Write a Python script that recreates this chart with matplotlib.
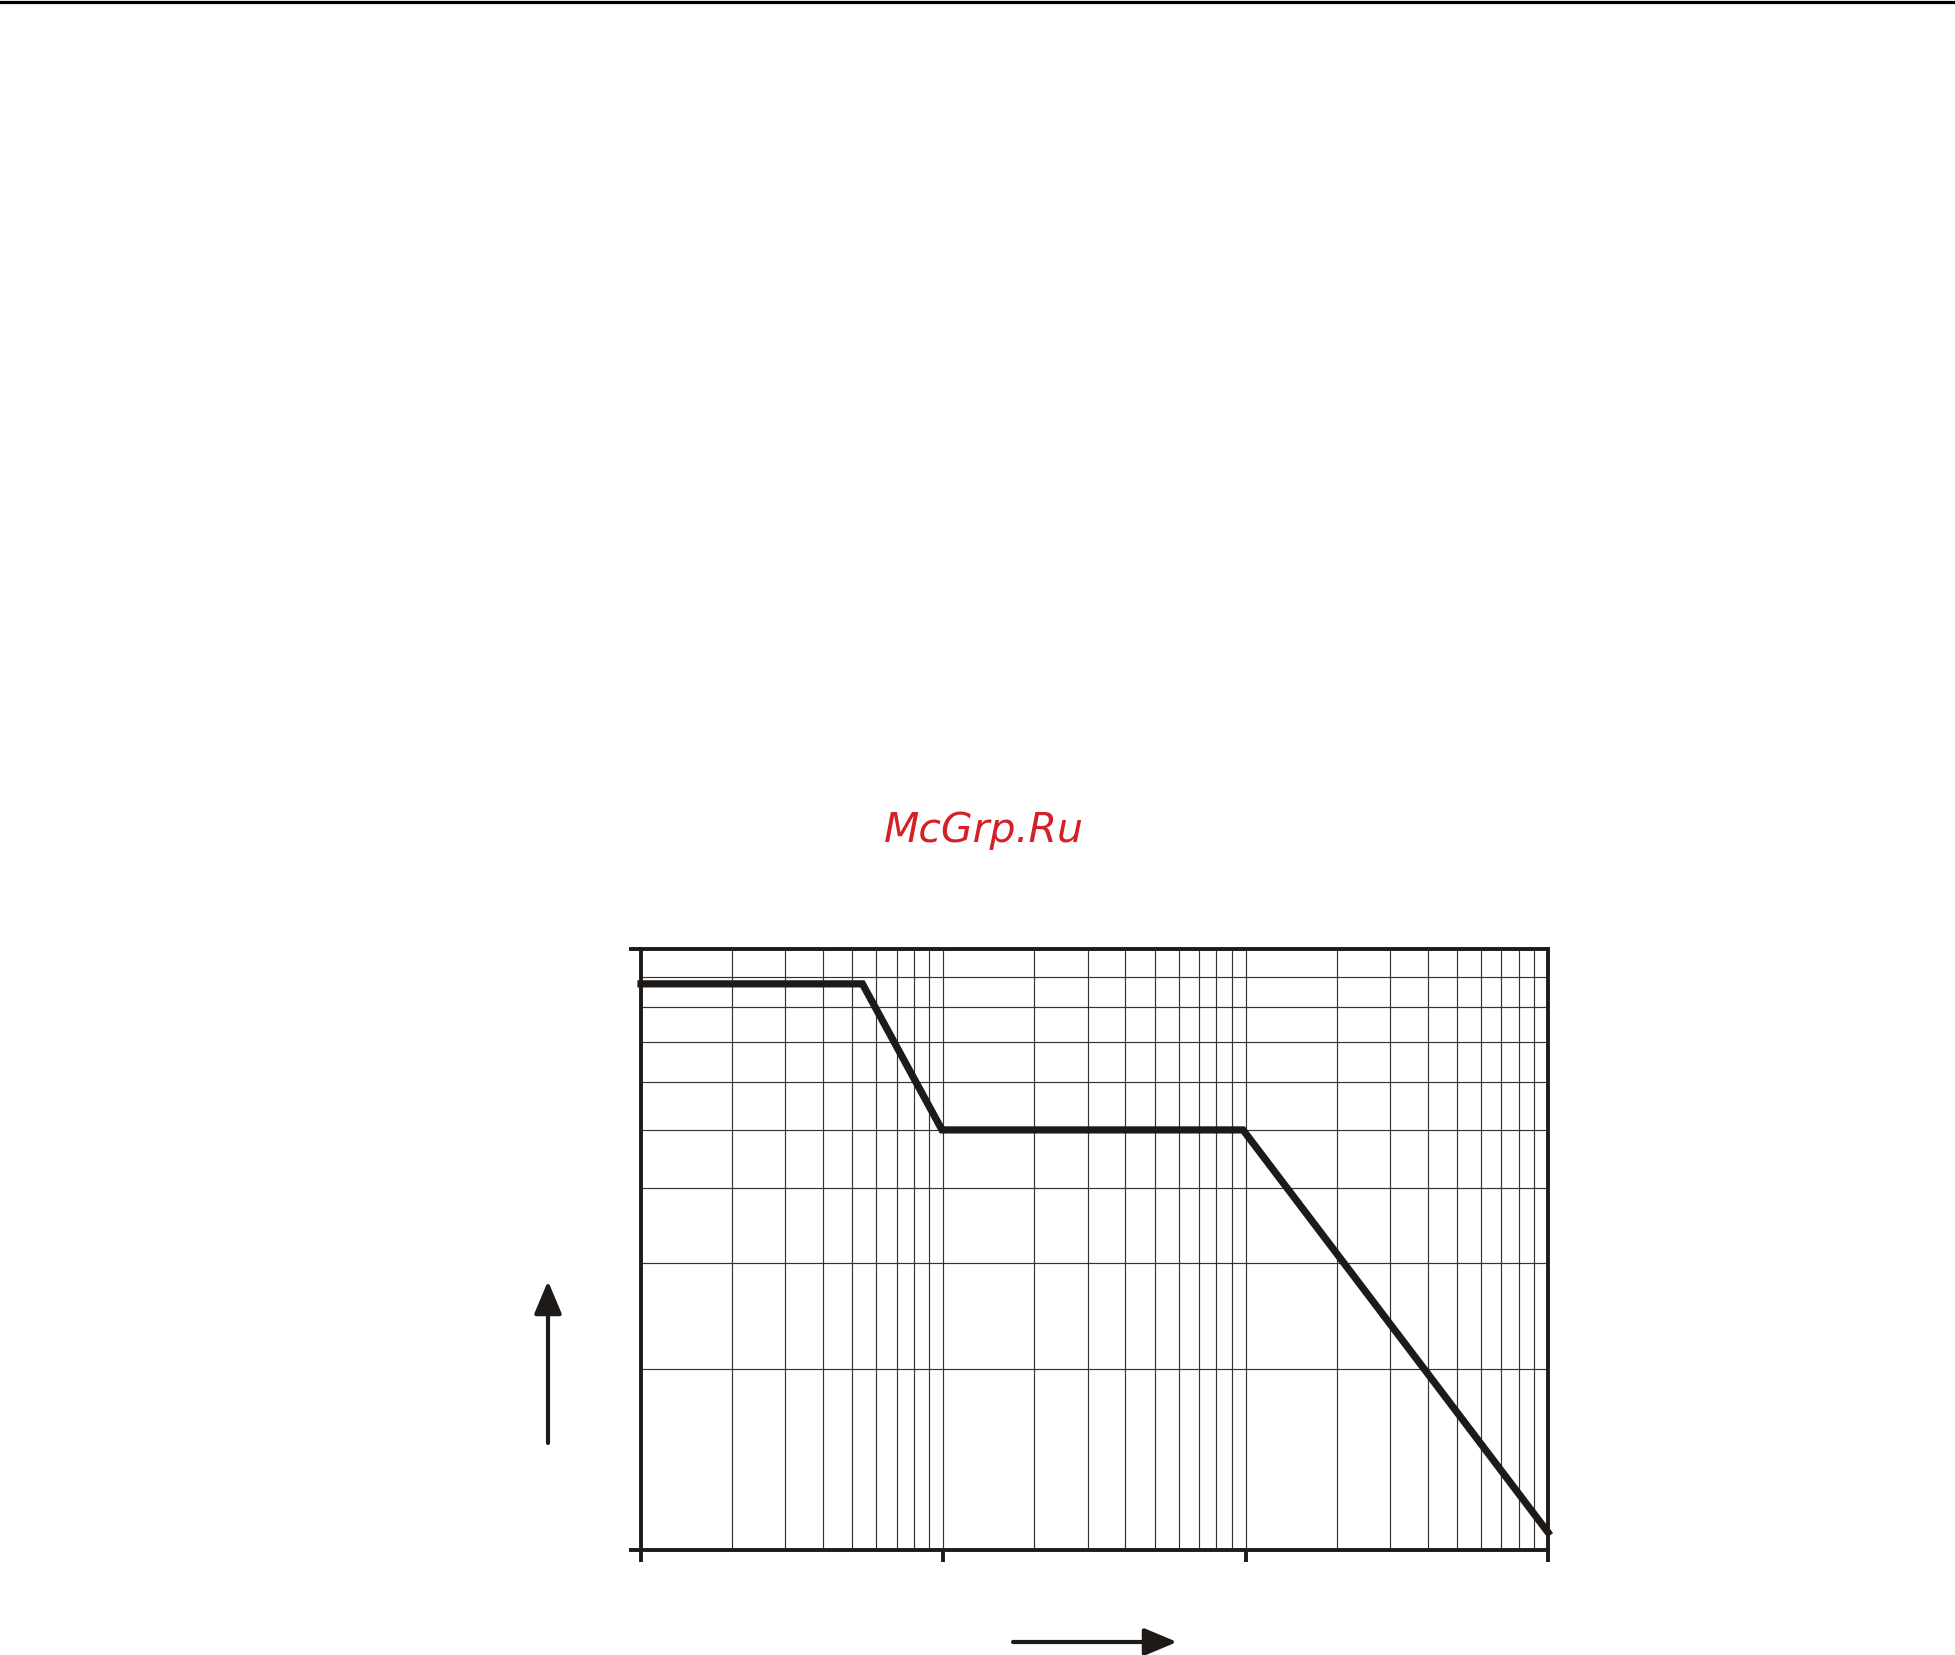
import matplotlib
matplotlib.use('Agg')
import matplotlib.pyplot as plt
from matplotlib.lines import Line2D

# curve breakpoints (log-log)
freq = [1, 5.4, 9.9, 98, 1000]
level = [8.75, 8.75, 5.0, 5.0, 1.07]

x_ticks = [1, 10, 100, 1000]
y_ticks = [1, 10]

W, H = 1956, 1655
fig = plt.figure(figsize=(W / 100, H / 100), dpi=100)

# black rule along the top edge
fig.add_artist(Line2D([0, 1], [1 - 1.5 / H, 1 - 1.5 / H], color='black', lw=2.3,
                      transform=fig.transFigure))

fig.text(984 / W, 1 - 830 / H, 'McGrp.Ru', color='#d42027', fontsize=29.5,
         style='italic', family='DejaVu Sans', ha='center', va='center')

left, right, bottom, top = 641 / W, 1548 / W, 1 - 1550 / H, 1 - 949 / H
ax = fig.add_axes([left, bottom, right - left, top - bottom])
ax.set_xscale('log')
ax.set_yscale('log')
ax.set_xlim(1, 1000)
ax.set_ylim(1, 10)

ax.grid(True, which='both', color='#333333', lw=0.85)
ax.set_axisbelow(True)

ax.plot(freq, level, color='#1e1a18', lw=5.2, solid_joinstyle='miter', clip_on=False, zorder=5)

for s in ax.spines.values():
    s.set_linewidth(2.8)
    s.set_color('#1e1a18')

ax.set_xticks(x_ticks)
ax.set_yticks(y_ticks)
ax.xaxis.set_minor_locator(matplotlib.ticker.LogLocator(base=10, subs=range(2, 10)))
ax.yaxis.set_minor_locator(matplotlib.ticker.LogLocator(base=10, subs=range(2, 10)))
ax.xaxis.set_minor_formatter(matplotlib.ticker.NullFormatter())
ax.yaxis.set_minor_formatter(matplotlib.ticker.NullFormatter())
ax.tick_params(which='major', length=8.5, width=2.8, color='#1e1a18', direction='out',
               labelbottom=False, labelleft=False)
ax.tick_params(which='minor', length=0, labelbottom=False, labelleft=False)

# axis direction arrows
arrow = dict(arrowstyle='-|>,head_length=1.0,head_width=0.42', color='#1e1a18', lw=3,
             shrinkA=0, shrinkB=0, mutation_scale=20)
ax.annotate('', xy=(548, H - 1281), xytext=(548, H - 1443), xycoords='figure pixels',
            textcoords='figure pixels', arrowprops=arrow)
ax.annotate('', xy=(1177, H - 1642), xytext=(1013, H - 1642), xycoords='figure pixels',
            textcoords='figure pixels', arrowprops=arrow)

fig.savefig('out.png', dpi=100)
